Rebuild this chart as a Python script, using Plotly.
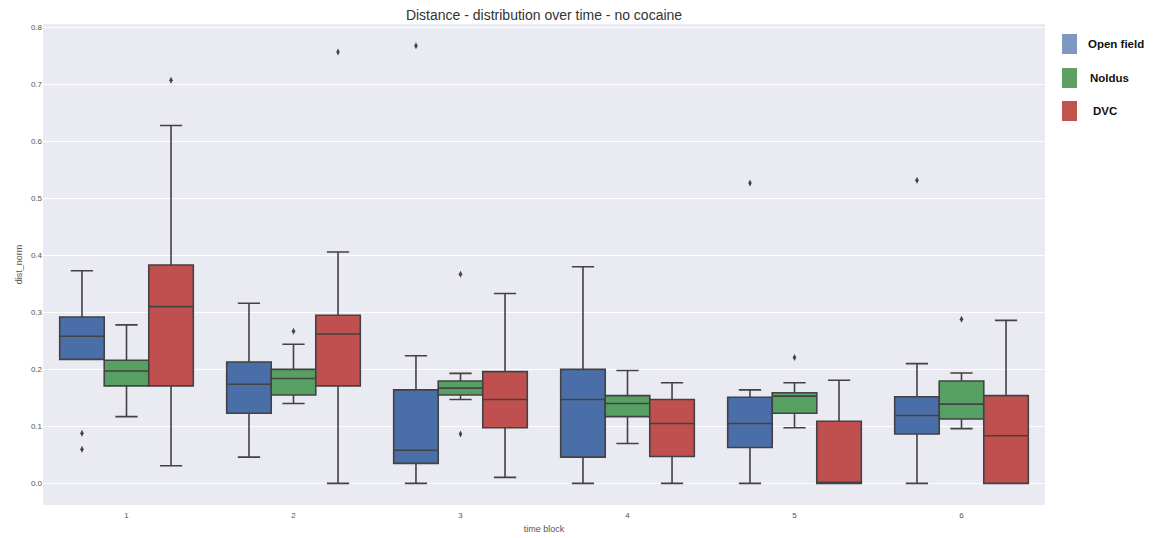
import plotly.graph_objects as go

# Time blocks and the three tracking systems
blocks = ["1", "2", "3", "4", "5", "6"]
systems = ["Open field", "Noldus", "DVC"]

# Box statistics per time block (dist_norm)
open_field_lo = [0.2175, 0.046, 0.0, 0.0, 0.0, 0.0]
open_field_q1 = [0.2175, 0.123, 0.035, 0.046, 0.063, 0.0865]
open_field_med = [0.258, 0.174, 0.058, 0.147, 0.105, 0.119]
open_field_q3 = [0.292, 0.213, 0.164, 0.200, 0.151, 0.152]
open_field_hi = [0.373, 0.316, 0.224, 0.380, 0.164, 0.210]
open_field_out = [[0.088, 0.060], [], [0.768], [], [0.527], [0.532]]

noldus_lo = [0.117, 0.140, 0.147, 0.070, 0.0975, 0.096]
noldus_q1 = [0.171, 0.155, 0.155, 0.117, 0.123, 0.113]
noldus_med = [0.197, 0.184, 0.167, 0.140, 0.153, 0.139]
noldus_q3 = [0.216, 0.200, 0.1795, 0.154, 0.159, 0.1795]
noldus_hi = [0.278, 0.244, 0.193, 0.198, 0.1765, 0.1935]
noldus_out = [[], [0.267], [0.367, 0.0865], [], [0.221], [0.288]]

dvc_lo = [0.031, 0.0, 0.0105, 0.0, 0.0, 0.0]
dvc_q1 = [0.171, 0.171, 0.0975, 0.047, 0.0, 0.0]
dvc_med = [0.310, 0.262, 0.147, 0.105, 0.0, 0.0835]
dvc_q3 = [0.383, 0.295, 0.196, 0.147, 0.109, 0.154]
dvc_hi = [0.628, 0.406, 0.333, 0.1765, 0.181, 0.286]
dvc_out = [[0.7075], [0.757], [], [], [], []]

# Axis range and ticks
y_range = [-0.038, 0.806]
y_ticks = [0.0, 0.1, 0.2, 0.3, 0.4, 0.5, 0.6, 0.7, 0.8]

box_fill = ["#4a6fa8", "#56a064", "#c0504f"]
legend_fill = ["#7e98c2", "#5fa067", "#c2514f"]
edge = "#424242"

stats = [
    (open_field_lo, open_field_q1, open_field_med, open_field_q3, open_field_hi, open_field_out),
    (noldus_lo, noldus_q1, noldus_med, noldus_q3, noldus_hi, noldus_out),
    (dvc_lo, dvc_q1, dvc_med, dvc_q3, dvc_hi, dvc_out),
]

group_width = 0.8
box_w = group_width / len(systems)

fig = go.Figure()
for k, (lo, q1, med, q3, hi, outs) in enumerate(stats):
    offset = (k - 1) * box_w
    xs = [i + offset for i in range(len(blocks))]
    fig.add_trace(go.Box(
        x=xs, q1=q1, median=med, q3=q3, lowerfence=lo, upperfence=hi,
        width=box_w, name=systems[k], fillcolor=box_fill[k],
        line=dict(color=edge, width=1.6), whiskerwidth=0.5,
        showlegend=False, hoverinfo="skip",
    ))
    ox, oy = [], []
    for i, vals in enumerate(outs):
        for v in vals:
            ox.append(xs[i])
            oy.append(v)
    fig.add_trace(go.Scatter(
        x=ox, y=oy, mode="markers",
        marker=dict(symbol="diamond-tall", size=5, color=edge),
        showlegend=False, hoverinfo="skip",
    ))

# Page geometry (pixels)
W, H = 1163, 538
L, R, T, B = 43, 118, 24, 33
pw = W - L - R
ph = H - T - B


def px_x(x):
    return (x - L) / pw


def px_y(y):
    return 1 - (y - T) / ph


# Custom legend: colour swatches with bold labels
swatch_tops = [34, 68, 101]
label_x = [1086, 1088, 1091]
for k, name in enumerate(systems):
    fig.add_shape(
        type="rect", xref="paper", yref="paper",
        x0=px_x(1062), x1=px_x(1077),
        y0=px_y(swatch_tops[k] + 20), y1=px_y(swatch_tops[k]),
        fillcolor=legend_fill[k], line=dict(width=0),
    )
    fig.add_annotation(
        xref="paper", yref="paper", x=px_x(label_x[k]), y=px_y(swatch_tops[k] + 10),
        xanchor="left", yanchor="middle", text="<b>%s</b>" % name, showarrow=False,
        font=dict(family="Liberation Sans, Arial", size=11.5, color="#111111"),
    )

fig.update_layout(
    width=W, height=H,
    margin=dict(l=L, r=R, t=T, b=B),
    paper_bgcolor="white",
    plot_bgcolor="#eaeaf2",
    boxmode="overlay",
    title=dict(
        text="Distance - distribution over time - no cocaine",
        x=px_x(544), xref="paper", xanchor="center", y=1 - 15 / H, yanchor="middle",
        font=dict(family="Liberation Sans, Arial", size=14, color="#333333"),
    ),
    xaxis=dict(
        range=[-0.5, len(blocks) - 0.5],
        tickmode="array", tickvals=list(range(len(blocks))), ticktext=blocks,
        showgrid=False, zeroline=False, showline=False, ticks="",
        ticklabelstandoff=4, automargin=False,
        tickfont=dict(family="Liberation Sans, Arial", size=8, color="#555555"),
        title=dict(text="time block", standoff=6,
                   font=dict(family="Liberation Sans, Arial", size=9, color="#555555")),
    ),
    yaxis=dict(
        range=y_range,
        tickmode="array", tickvals=y_ticks, ticktext=["%.1f" % v for v in y_ticks],
        showgrid=True, gridcolor="white", gridwidth=1.2,
        zeroline=False, showline=False, ticks="", automargin=False,
        tickfont=dict(family="Liberation Sans, Arial", size=8, color="#555555"),
        title=dict(text="dist_norm", standoff=6,
                   font=dict(family="Liberation Sans, Arial", size=9, color="#555555")),
    ),
)

fig.write_html("out.html")
